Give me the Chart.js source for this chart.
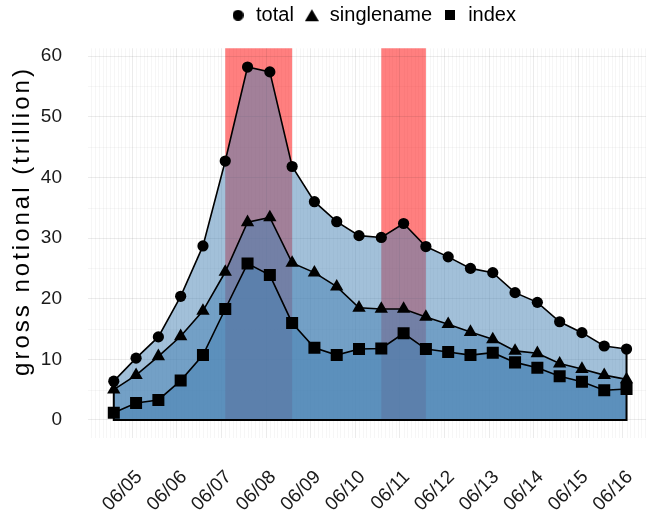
<!DOCTYPE html>
<html>
<head>
<meta charset="utf-8">
<script src="https://cdn.jsdelivr.net/npm/chart.js@4"></script>
<style>
	html, body { margin: 0; padding: 0; background: #fff; overflow: hidden; }
	#wrap { width: 646px; height: 514px; }
</style>
</head>
<body>
<div id="wrap"><canvas id="chart"></canvas></div>
<script>
// observation times (twice a day)
const times = [
	'06/04 14:00', '06/05 02:00', '06/05 14:00', '06/06 02:00', '06/06 14:00', '06/07 02:00',
	'06/07 14:00', '06/08 02:00', '06/08 14:00', '06/09 02:00', '06/09 14:00', '06/10 02:00',
	'06/10 14:00', '06/11 02:00', '06/11 14:00', '06/12 02:00', '06/12 14:00', '06/13 02:00',
	'06/13 14:00', '06/14 02:00', '06/14 14:00', '06/15 02:00', '06/15 14:00', '06/16 02:00',
];

// gross notional, trillion
const total = [6.4, 10.2, 13.7, 20.4, 28.7, 42.7, 58.2, 57.4, 41.8, 36.0, 32.7, 30.4,
	30.1, 32.4, 28.6, 26.9, 25.0, 24.3, 21.0, 19.4, 16.2, 14.4, 12.2, 11.7];
const singlename = [5.0, 7.4, 10.5, 13.8, 18.0, 24.4, 32.6, 33.4, 25.9, 24.3, 22.0, 18.5,
	18.3, 18.3, 17.0, 15.8, 14.5, 13.3, 11.4, 11.0, 9.3, 8.4, 7.4, 6.7];
const index = [1.2, 2.8, 3.3, 6.5, 10.7, 18.3, 25.8, 23.9, 16.0, 11.9, 10.7, 11.7,
	11.8, 14.3, 11.7, 11.2, 10.7, 11.1, 9.5, 8.6, 7.2, 6.3, 4.9, 5.1];

// highlighted periods
const shadeStart = ['06/07 02:00', '06/10 14:00'];
const shadeEnd = ['06/08 14:00', '06/11 14:00'];

const tickLabels = ['06/05', '06/06', '06/07', '06/08', '06/09', '06/10',
	'06/11', '06/12', '06/13', '06/14', '06/15', '06/16'];
const yTicks = [0, 10, 20, 30, 40, 50, 60];
const yMinorTicks = [5, 15, 25, 35, 45, 55];

// days from 06/05 00:00
const dayOf = (s) => {
	let [date, time = '00:00'] = s.split(' ');
	let dd = Number(date.split('/')[1]);
	let [hh, mm] = time.split(':').map(Number);
	return dd - 5 + (hh + mm / 60) / 24;
};

const xs = times.map(dayOf);
const toPoints = vals => vals.map((v, i) => ({ x: xs[i], y: v }));

const FONT = '"Liberation Sans", Arial, Helvetica, sans-serif';
const AREA = 'rgba(70, 130, 180, 0.5)';

// small black icons for the legend
const legendIcon = (shape, size) => {
	let c = document.createElement('canvas');
	c.width = size;
	c.height = size;
	let g = c.getContext('2d');
	let m = size / 2;
	g.fillStyle = '#000';
	g.beginPath();
	if (shape === 'circle') {
		g.arc(m, m, m, 0, Math.PI * 2);
	} else if (shape === 'triangle') {
		let h = size * 0.866;
		let top = (size - h) / 2;
		g.moveTo(m, top);
		g.lineTo(size, top + h);
		g.lineTo(0, top + h);
		g.closePath();
	} else {
		g.rect(0, 0, size, size);
	}
	g.fill();
	return c;
};
const legendIcons = [legendIcon('circle', 11), legendIcon('triangle', 14), legendIcon('rect', 10)];

// minor grid + red periods under everything, area outline, y title
const decorations = {
	id: 'decorations',
	afterLayout (chart) {
		// nudge legend a bit to the right, like the original
		chart.legend.left += 6;
		chart.legend.right += 6;
	},
	beforeDraw (chart) {
		let { ctx, chartArea: a, scales: { x, y } } = chart;
		ctx.save();
		ctx.lineWidth = 1;
		ctx.strokeStyle = 'rgba(0, 0, 0, 0.035)';
		ctx.beginPath();
		for (let h = Math.ceil(x.min * 12); h <= x.max * 12; h++) {
			if (h % 12 === 0) { continue; }
			let px = Math.round(x.getPixelForValue(h / 12)) + 0.5;
			ctx.moveTo(px, a.top);
			ctx.lineTo(px, a.bottom);
		}
		yMinorTicks.forEach((v) => {
			let py = Math.round(y.getPixelForValue(v)) + 0.5;
			ctx.moveTo(a.left, py);
			ctx.lineTo(a.right, py);
		});
		ctx.stroke();

		ctx.fillStyle = 'rgba(255, 0, 0, 0.5)';
		shadeStart.forEach((s, i) => {
			let x0 = x.getPixelForValue(dayOf(s));
			let x1 = x.getPixelForValue(dayOf(shadeEnd[i]));
			let y0 = y.getPixelForValue(0);
			let y1 = y.getPixelForValue(y.max);
			ctx.fillRect(x0, y1, x1 - x0, y0 - y1);
		});
		ctx.restore();
	},
	beforeDatasetsDraw (chart) {
		// sides and bottom of the total area
		let { ctx, scales: { y } } = chart;
		let pts = chart.getDatasetMeta(0).data;
		let first = pts[0];
		let last = pts[pts.length - 1];
		let y0 = y.getPixelForValue(0);
		ctx.save();
		ctx.strokeStyle = '#000';
		ctx.lineWidth = 2;
		ctx.beginPath();
		ctx.moveTo(first.x, first.y);
		ctx.lineTo(first.x, y0);
		ctx.lineTo(last.x, y0);
		ctx.lineTo(last.x, last.y);
		ctx.stroke();
		ctx.restore();
	},
	afterDraw (chart) {
		let { ctx } = chart;
		ctx.save();
		ctx.translate(22, 221);
		ctx.rotate(-Math.PI / 2);
		ctx.font = '24px ' + FONT;
		ctx.letterSpacing = '3px';
		ctx.fillStyle = '#000';
		ctx.textAlign = 'center';
		ctx.textBaseline = 'middle';
		ctx.fillText('gross notional (trillion)', 0, 0);
		ctx.restore();
	},
};

const series = (label, data, pointStyle, radius) => ({
	label,
	data: toPoints(data),
	fill: 'origin',
	backgroundColor: AREA,
	borderColor: '#000',
	borderWidth: 1.6,
	pointStyle,
	pointRadius: radius,
	pointBackgroundColor: '#000',
	pointBorderColor: '#000',
	pointBorderWidth: 0,
	tension: 0,
});

Chart.defaults.font.family = FONT;
Chart.defaults.color = '#1a1a1a';

new Chart(document.getElementById('chart'), {
	type: 'line',
	data: {
		datasets: [
			series('total', total, 'circle', 5.6),
			series('singlename', singlename, 'triangle', 7.7),
			series('index', index, 'rect', 8.5),
		],
	},
	options: {
		responsive: true,
		maintainAspectRatio: false,
		animation: false,
		layout: {
			autoPadding: false,
			padding: { top: -4.75, left: 0, right: 0, bottom: 0 },
		},
		plugins: {
			filler: { drawTime: 'beforeDatasetsDraw' },
			tooltip: { enabled: false },
			legend: {
				position: 'top',
				fullSize: false,
				labels: {
					usePointStyle: true,
					boxWidth: 16,
					boxHeight: 16,
					padding: 10,
					color: '#000',
					font: { size: 20 },
					generateLabels: chart => chart.data.datasets.map((ds, i) => ({
						text: ds.label,
						pointStyle: legendIcons[i],
						fillStyle: '#000',
						strokeStyle: '#000',
						lineWidth: 0,
						hidden: false,
						datasetIndex: i,
					})),
				},
			},
			subtitle: {
				display: true,
				text: '',
				padding: 0,
				weight: 500,
				font: { size: 13, lineHeight: 1 },
			},
		},
		scales: {
			x: {
				type: 'linear',
				min: -0.995,
				max: 11.52,
				border: { display: false },
				grid: { color: 'rgba(0, 0, 0, 0.08)', lineWidth: 1, drawTicks: false },
				afterBuildTicks: (scale) => {
					scale.ticks = tickLabels.map(l => ({ value: dayOf(l) }));
				},
				afterFit: (scale) => {
					// rotated labels sit inside the left margin, no extra room needed
					scale.height = 76;
					scale.paddingLeft = 0;
					scale.paddingRight = 0;
				},
				ticks: {
					autoSkip: false,
					maxRotation: 45,
					minRotation: 45,
					padding: 28,
					labelOffset: 7,
					font: { size: 19 },
					callback: (v) => tickLabels[tickLabels.findIndex(l => dayOf(l) === v)],
				},
			},
			y: {
				min: -2.97,
				max: 61.3,
				border: { display: false },
				grid: { color: 'rgba(0, 0, 0, 0.08)', lineWidth: 1, drawTicks: false },
				afterBuildTicks: (scale) => {
					scale.ticks = yTicks.map(v => ({ value: v }));
				},
				afterFit: (scale) => { scale.width = 88; },
				ticks: {
					padding: 26,
					font: { size: 19 },
				},
			},
		},
	},
	plugins: [decorations],
});
</script>
</body>
</html>
